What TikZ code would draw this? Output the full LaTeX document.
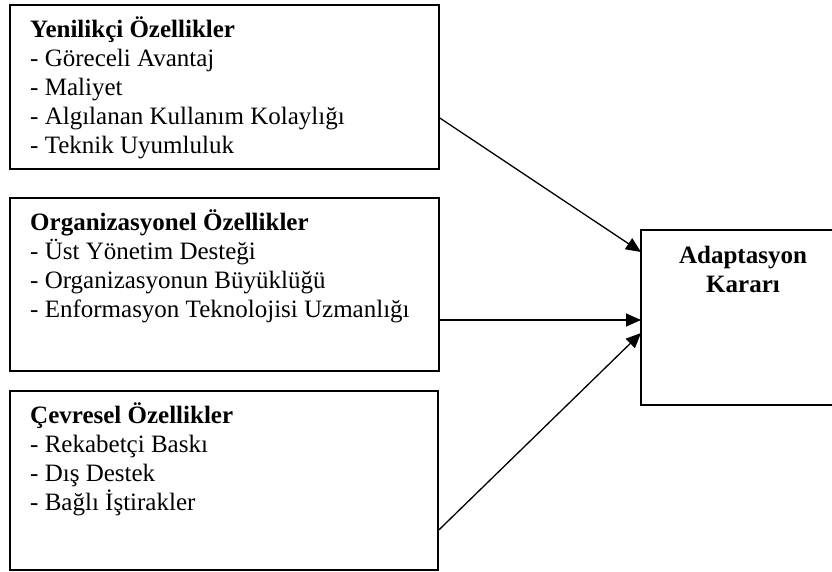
\documentclass[tikz,border=0pt]{standalone}
\usepackage{fontspec}
\setmainfont{Liberation Serif}
\usetikzlibrary{arrows.meta}
\begin{document}
\begin{tikzpicture}[x=1pt,y=-1pt,
  box/.style={draw,line width=1.8pt,rectangle,inner sep=0pt,anchor=north west},
  frame/.style={line width=1.8pt},
  line/.style={anchor=base west,inner sep=0pt,font=\fontsize{25}{29}\selectfont},
  head/.style={line,font=\fontsize{25}{29}\selectfont\bfseries},
  link/.style={line width=1.3pt,-{Triangle[length=15pt,width=13pt]}}]
\useasboundingbox (0,0) rectangle (832,571);
% factor boxes
\node[box,minimum width=429pt,minimum height=164pt] (b1) at (9,4) {};
\node[box,minimum width=429pt,minimum height=173pt] (b2) at (9,197) {};
\node[box,minimum width=428pt,minimum height=179pt] (b3) at (9,390) {};
% decision box: open on the right, running off the page edge
\node[box,draw=none,minimum width=191pt,minimum height=173pt] (b4) at (641,230) {};
\draw[frame] (b4.north east) -- (b4.north west) -- (b4.south west) -- (b4.south east);
% innovation characteristics
\node[head] (t11) at (30,37) {Yenilikçi Özellikler};
\node[line] (t12) at (30,66) {- Göreceli Avantaj};
\node[line] (t13) at (30,95) {- Maliyet};
\node[line] (t14) at (30,124) {- Algılanan Kullanım Kolaylığı};
\node[line] (t15) at (30,153) {- Teknik Uyumluluk};
% organisational characteristics
\node[head] (t21) at (30,230) {Organizasyonel Özellikler};
\node[line] (t22) at (30,259) {- Üst Yönetim Desteği};
\node[line] (t23) at (30,288) {- Organizasyonun Büyüklüğü};
\node[line] (t24) at (30,317) {- Enformasyon Teknolojisi Uzmanlığı};
% environmental characteristics
\node[head] (t31) at (30,423) {Çevresel Özellikler};
\node[line] (t32) at (30,452) {- Rekabetçi Baskı};
\node[line] (t33) at (30,481) {- Dış Destek};
\node[line] (t34) at (30,510) {- Bağlı İştirakler};
% decision label
\node[head,anchor=base] (t41) at (743,263) {Adaptasyon};
\node[head,anchor=base] (t42) at (743,292) {Kararı};
% influences
\draw[link] ([yshift=-114pt]b1.north east) -- ([yshift=-22pt]b4.north west);
\draw[link] ([yshift=-123pt]b2.north east) -- ([yshift=-90pt]b4.north west);
\draw[link] ([yshift=-140pt]b3.north east) -- ([yshift=-103pt]b4.north west);
\end{tikzpicture}
\end{document}
